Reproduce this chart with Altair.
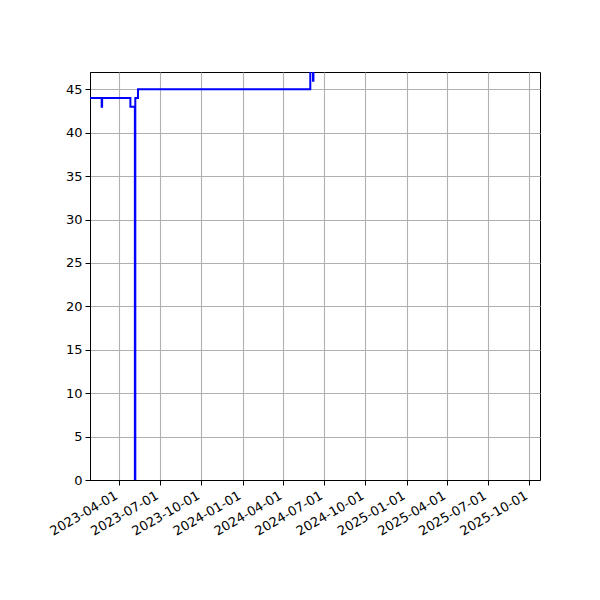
import altair as alt
import pandas as pd

dates = ["2023-01-01", "2023-02-21", "2023-02-22", "2023-04-26", "2023-05-06",
         "2023-05-07", "2023-05-13", "2024-05-31", "2024-06-06", "2024-06-07",
         "2025-10-31"]
values = [44, 43, 44, 43, 0, 44, 45, 48, 46, 48, 48]

tick_labels = ["2023-04-01", "2023-07-01", "2023-10-01", "2024-01-01", "2024-04-01",
               "2024-07-01", "2024-10-01", "2025-01-01", "2025-04-01", "2025-07-01",
               "2025-10-01"]
x_domain = ["2023-01-26", "2025-10-25"]
y_ticks = [0, 5, 10, 15, 20, 25, 30, 35, 40, 45]
y_domain = [0, 47]

df = pd.DataFrame({"date": dates, "value": values})

def ms(s):
    return int(pd.Timestamp(s, tz="UTC").timestamp() * 1000)

chart = alt.Chart(df).mark_line(
    color="#0000ff", strokeWidth=2, clip=True, interpolate="step-after"
).encode(
    x=alt.X("date:T",
            scale=alt.Scale(type="utc", domain=[ms(d) for d in x_domain], nice=False),
            axis=alt.Axis(values=[ms(d) for d in tick_labels],
                          labelExpr="utcFormat(datum.value, '%Y-%m-%d')",
                          labelOverlap=False, labelAngle=-30, labelAlign="right",
                          labelBaseline="top", labelPadding=4, labelOffset=-6,
                          title=None)),
    y=alt.Y("value:Q",
            scale=alt.Scale(domain=y_domain, nice=False, zero=False),
            axis=alt.Axis(values=y_ticks, title=None)),
).properties(
    width=450, height=408, background="white",
    padding={"left": 82, "top": 64, "right": 52, "bottom": 112},
    autosize=alt.AutoSizeParams(type="none"),
).configure_view(
    stroke="black", strokeWidth=1
).configure_axis(
    domainColor="black", domainWidth=1, tickColor="black", tickSize=5, tickWidth=1,
    gridColor="#b0b0b0", gridWidth=1.1, grid=True,
    labelFont="DejaVu Sans", labelFontSize=13, labelColor="black", labelPadding=3,
)

chart.save("out.html", embed_options={"renderer": "svg", "actions": False})
